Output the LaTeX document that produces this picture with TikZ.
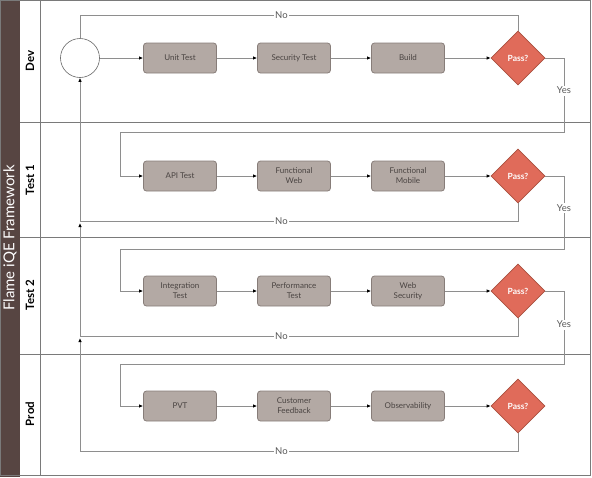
\documentclass[tikz,border=0pt]{standalone}
\usepackage{fontspec}
\setmainfont{Lato}
\usetikzlibrary{shapes.geometric,arrows.meta}

\definecolor{bandbrown}{HTML}{574542}
\definecolor{taskfill}{HTML}{B3A9A4}
\definecolor{taskedge}{HTML}{877D79}
\definecolor{tasktext}{HTML}{4A4442}
\definecolor{gatefill}{HTML}{E06B5A}
\definecolor{gateedge}{HTML}{A9503F}
\definecolor{linegray}{HTML}{8E8E8E}
\definecolor{framegray}{HTML}{7A7A7A}

\tikzset{
    task/.style={draw=taskedge, fill=taskfill, rounded corners=3pt, line width=0.8pt,
        minimum width=73pt, minimum height=30pt, align=center, text=tasktext,
        font=\fontsize{8}{10}\selectfont},
    gate/.style={diamond, draw=gateedge, fill=gatefill, line width=0.6pt,
        minimum width=54pt, minimum height=54pt, inner sep=0pt, text=white,
        font=\bfseries\fontsize{8.5}{10}\selectfont},
    flow/.style={draw=linegray, line width=0.8pt, -{Latex[length=4pt,width=3.5pt,color=black]}},
    loop/.style={draw=linegray, line width=0.8pt},
    lbl/.style={fill=white, text=black!65, inner sep=1.5pt, font=\fontsize{9.5}{11}\selectfont},
    lane/.style={draw=framegray, line width=0.7pt},
    lanename/.style={rotate=90, font=\bfseries\fontsize{11.5}{13}\selectfont}
}

\begin{document}
\begin{tikzpicture}[x=1pt, y=-1pt]
    \useasboundingbox (0,0) rectangle (592,477);
    % frame and lanes
    \fill[bandbrown] (0,0) rectangle (20,477);
    \draw[lane] (0.5,0.5) rectangle (590,475);
    \draw[lane] (40,0.5) -- (40,475);
    \draw[lane] (20,122) -- (590,122);
    \draw[lane] (20,237) -- (590,237);
    \draw[lane] (20,354) -- (590,354);
    \node[rotate=90, text=white, font=\fontsize{15}{17}\selectfont] (title) at (10,238) {Flame iQE Framework};
    \node[lanename] (dev) at (30,61) {Dev};
    \node[lanename] (test1) at (30,180) {Test 1};
    \node[lanename] (test2) at (30,295) {Test 2};
    \node[lanename] (prod) at (30,414) {Prod};

    % Dev
    \node[circle, draw=black!60, line width=0.6pt, minimum size=39pt, inner sep=0pt] (start) at (80,58) {};
    \node[task] (d1) at (180,58) {Unit Test};
    \node[task] (d2) at (294,58) {Security Test};
    \node[task] (d3) at (408,58) {Build};
    \node[gate] (g1) at (518,58) {Pass?};
    % Test 1
    \node[task] (a1) at (180,176) {API Test};
    \node[task] (a2) at (294,176) {Functional\\Web};
    \node[task] (a3) at (408,176) {Functional\\Mobile};
    \node[gate] (g2) at (518,176) {Pass?};
    % Test 2
    \node[task] (b1) at (180,291) {Integration\\Test};
    \node[task] (b2) at (294,291) {Performance\\Test};
    \node[task] (b3) at (408,291) {Web\\Security};
    \node[gate] (g3) at (518,291) {Pass?};
    % Prod
    \node[task] (c1) at (180,406) {PVT};
    \node[task] (c2) at (294,406) {Customer\\Feedback};
    \node[task] (c3) at (408,406) {Observability};
    \node[gate] (g4) at (518,406) {Pass?};

    % bend points
    \coordinate (no1) at (518,15);
    \coordinate (yes1a) at (564,132);
    \coordinate (yes1b) at (120,132);
    \coordinate (yes2a) at (564,249);
    \coordinate (yes2b) at (120,249);
    \coordinate (yes3a) at (564,364);
    \coordinate (yes3b) at (120,364);
    \coordinate (ret1) at (80,221);
    \coordinate (ret2) at (80,336);
    \coordinate (ret3) at (80,451);

    % forward flow
    \draw[flow] (start) -- (d1);
    \draw[flow] (d1) -- (d2);
    \draw[flow] (d2) -- (d3);
    \draw[flow] (d3) -- (g1);
    \draw[flow] (a1) -- (a2);
    \draw[flow] (a2) -- (a3);
    \draw[flow] (a3) -- (g2);
    \draw[flow] (b1) -- (b2);
    \draw[flow] (b2) -- (b3);
    \draw[flow] (b3) -- (g3);
    \draw[flow] (c1) -- (c2);
    \draw[flow] (c2) -- (c3);
    \draw[flow] (c3) -- (g4);

    % yes
    \draw[flow] (g1.east) -| node[lbl, pos=0.72] {Yes} (yes1a) -- (yes1b) |- (a1.west);
    \draw[flow] (g2.east) -| node[lbl, pos=0.72] {Yes} (yes2a) -- (yes2b) |- (b1.west);
    \draw[flow] (g3.east) -| node[lbl, pos=0.73] {Yes} (yes3a) -- (yes3b) |- (c1.west);

    % no
    \draw[loop] (g1.north) -- (no1) -| node[lbl, pos=0.27] {No} (start.north);
    \draw[flow] (g2.south) |- node[lbl, pos=0.77] {No} (ret1) -- (start.south);
    \draw[flow, shorten >=2pt] (g3.south) |- node[lbl, pos=0.77] {No} (ret2) -- (ret1);
    \draw[flow, shorten >=2pt] (g4.south) |- node[lbl, pos=0.77] {No} (ret3) -- (ret2);
\end{tikzpicture}
\end{document}
